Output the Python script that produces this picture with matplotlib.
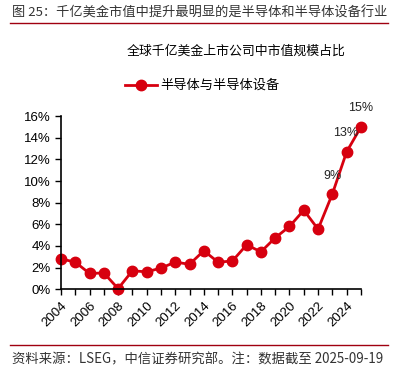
import matplotlib
matplotlib.use('Agg')
import matplotlib.pyplot as plt
from matplotlib.ticker import FuncFormatter, MultipleLocator
from matplotlib.lines import Line2D

plt.rcParams['font.family'] = ['Noto Sans CJK SC', 'DejaVu Sans']

# Data
years = list(range(2004, 2026))
share = [2.8, 2.5, 1.45, 1.5, 0.05, 1.7, 1.6, 1.95, 2.5, 2.3, 3.55,
         2.5, 2.6, 4.1, 3.45, 4.75, 5.8, 7.3, 5.55, 8.8, 12.7, 15.0]
labelled = {2023: '9%', 2024: '13%', 2025: '15%'}
series_name = '半导体与半导体设备'
red = '#d7000f'

fig = plt.figure(figsize=(4.12, 3.76), dpi=100)
ax = fig.add_axes([0.148, 0.231, 0.728, 0.46])

ax.plot(years, share, color=red, lw=2, marker='o', markersize=7.5, clip_on=False)

# Data labels for the last points
offsets = {2023: (0, 12.7), 2024: (-1, 13.7), 2025: (0, 13.5)}
for yr, txt in labelled.items():
    v = share[years.index(yr)]
    ax.annotate(txt, (yr, v), xytext=offsets[yr], textcoords='offset points',
                ha='center', va='center', fontsize=9, color='#222222',
                family=['Liberation Sans', 'DejaVu Sans'])

ax.set_xlim(2004, 2025)
ax.set_ylim(0, 16)
ax.yaxis.set_major_locator(MultipleLocator(2))
ax.yaxis.set_major_formatter(FuncFormatter(lambda v, p: '%d%%' % v))
ax.set_xticks(years)
ax.set_xticklabels([str(y) if y % 2 == 0 else '' for y in years],
                   rotation=45, ha='right', rotation_mode='anchor')
ax.tick_params(axis='both', labelsize=9.5, length=4, width=1, colors='black')
for lab in ax.get_xticklabels() + ax.get_yticklabels():
    lab.set_family(['Liberation Sans', 'DejaVu Sans'])
ax.spines['top'].set_visible(False)
ax.spines['right'].set_visible(False)
ax.spines['left'].set_linewidth(1.2)
ax.spines['bottom'].set_linewidth(1.2)

# Titles and legend
fig.text(0.03, 0.965, '图 25：千亿美金市值中提升最明显的是半导体和半导体设备行业',
         fontsize=9.5, color='#333333', va='center', ha='left')
fig.add_artist(Line2D([0.025, 0.942], [0.938, 0.938], color='#a00010', lw=1))
fig.text(0.572, 0.865, '全球千亿美金上市公司中市值规模占比',
         fontsize=9.3, color='black', ha='center', va='center')
fig.add_artist(Line2D([0.304, 0.381], [0.774, 0.774], color=red, lw=2))
fig.add_artist(Line2D([0.342], [0.774], color=red, marker='o', markersize=7.5))
fig.text(0.388, 0.774, series_name, fontsize=9.5, color='black',
         ha='left', va='center')

# Footer
fig.add_artist(Line2D([0.025, 0.942], [0.083, 0.083], color='#a00010', lw=1))
fig.text(0.03, 0.043, '资料来源：LSEG，中信证券研究部。注：数据截至 2025-09-19',
         fontsize=9.6, color='#333333', ha='left', va='center')

plt.savefig('out.png', dpi=100)
